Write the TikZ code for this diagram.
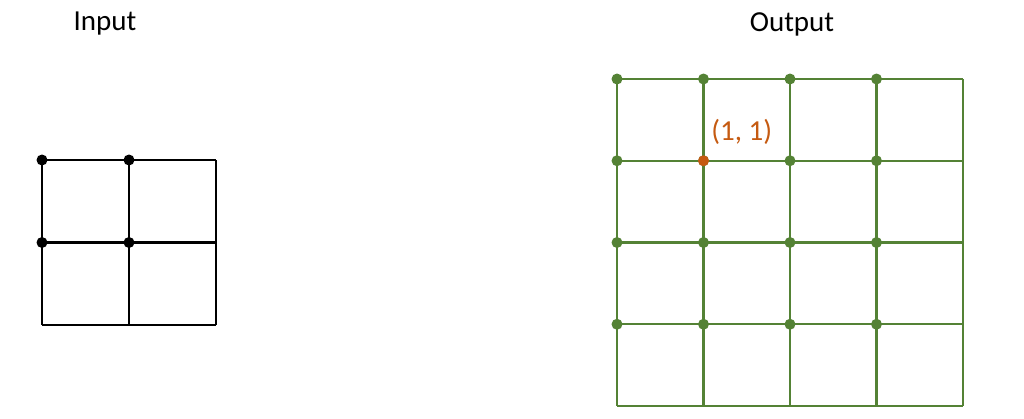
\documentclass[tikz,border=0pt]{standalone}
\usepackage{fontspec}
\setmainfont{Carlito}
\usetikzlibrary{positioning}
\definecolor{gridgreen}{RGB}{84,130,53}
\definecolor{markorange}{RGB}{197,90,17}

\begin{document}
\begin{tikzpicture}[x=0.02cm, y=-0.02cm, font=\fontsize{16.5}{20}\selectfont,
    dot/.style={circle, fill, inner sep=0pt, minimum size=0.22cm},
    gridline/.style={line width=1.2pt}]
    \useasboundingbox (0,0) rectangle (1024,419);

    % titles
    \node (inlabel) at (105,24) {Input};
    \node (outlabel) at (792,24) {Output};

    % input grid (2x2)
    \def\ix{42} \def\iy{160} \def\iw{87} \def\ih{82.5}
    \foreach \k in {0,1,2}{
      \draw[gridline] ({\ix+\k*\iw},\iy) -- ({\ix+\k*\iw},{\iy+2*\ih});
      \draw[gridline] (\ix,{\iy+\k*\ih}) -- ({\ix+2*\iw},{\iy+\k*\ih});
    }
    \foreach \r in {0,1}
      \foreach \c in {0,1}
        \node[dot] (in-\r-\c) at ({\ix+\c*\iw},{\iy+\r*\ih}) {};

    % output grid (4x4)
    \def\ox{617} \def\oy{79} \def\ow{86.5} \def\oh{81.75}
    \foreach \k in {0,...,4}{
      \draw[gridline, gridgreen] ({\ox+\k*\ow},\oy) -- ({\ox+\k*\ow},{\oy+4*\oh});
      \draw[gridline, gridgreen] (\ox,{\oy+\k*\oh}) -- ({\ox+4*\ow},{\oy+\k*\oh});
    }
    \foreach \r in {0,...,3}
      \foreach \c in {0,...,3}
        \node[dot, gridgreen] (out-\r-\c) at ({\ox+\c*\ow},{\oy+\r*\oh}) {};

    % marked position
    \node[dot, markorange] (mark) at (out-1-1) {};
    \node[markorange, above right=0.32cm and 0.15cm of mark.center, anchor=south west, inner sep=0pt] (marklabel) {(1, 1)};
\end{tikzpicture}
\end{document}
